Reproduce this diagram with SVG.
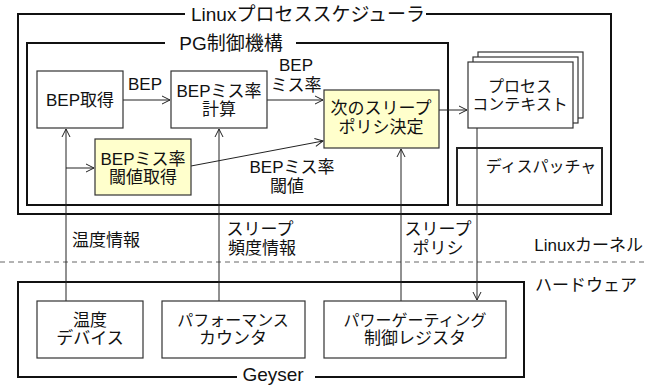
<svg xmlns="http://www.w3.org/2000/svg" width="648" height="385" viewBox="0 0 648 385">
  <defs>
    <marker id="arr" markerWidth="10" markerHeight="10" refX="9" refY="5" orient="auto" markerUnits="userSpaceOnUse">
      <path d="M1,1 L9,5 L1,9" fill="none" stroke="#222" stroke-width="1"/>
    </marker>
  </defs>
  <style>
    text { font-family: "Liberation Sans", "Noto Sans CJK JP", sans-serif; font-size: 17px; fill: #111; text-anchor: middle; }
    .frame { fill: none; stroke: #111; stroke-width: 2; }
    .box { fill: #fff; stroke: #333; stroke-width: 1.2; }
    .hi { fill: #ffffcc; stroke: #333; stroke-width: 1.2; }
    .wire { fill: none; stroke: #222; stroke-width: 1; }
    .title { font-size: 19px; }
    .narrow { font-size: 16px; }
  </style>
  <rect width="648" height="385" fill="#fff"/>

  <!-- layer divider -->
  <line x1="0" y1="262" x2="648" y2="262" stroke="#666" stroke-width="1" stroke-dasharray="5,4"/>
  <text x="643" y="251" style="text-anchor:end">Linuxカーネル</text>
  <text x="586" y="291">ハードウェア</text>

  <!-- container frames -->
  <g id="scheduler">
    <path class="frame" d="M185,14 H18 V214 H611 V14 H426"/>
    <text class="title" x="308" y="21">Linuxプロセススケジューラ</text>
  </g>
  <g id="pg-control">
    <path class="frame" d="M165,43 H27 V205 H448 V43 H296"/>
    <text class="title" x="231" y="50">PG制御機構</text>
  </g>
  <g id="geyser">
    <path class="frame" d="M237,377 H18 V282 H524 V377 H315"/>
    <text class="title" x="273" y="381">Geyser</text>
  </g>

  <!-- connectors -->
  <g id="connectors">
    <line class="wire" x1="123" y1="100" x2="170" y2="100" marker-end="url(#arr)"/>
    <line class="wire" x1="267" y1="100" x2="323" y2="100" marker-end="url(#arr)"/>
    <line class="wire" x1="191" y1="166" x2="323" y2="141" marker-end="url(#arr)"/>
    <line class="wire" x1="439" y1="110" x2="467" y2="110" marker-end="url(#arr)"/>
    <line class="wire" x1="66" y1="301" x2="66" y2="129" marker-end="url(#arr)"/>
    <line class="wire" x1="66" y1="168" x2="94" y2="168" marker-end="url(#arr)"/>
    <line class="wire" x1="219" y1="301" x2="219" y2="129" marker-end="url(#arr)"/>
    <line class="wire" x1="401" y1="301" x2="401" y2="149" marker-end="url(#arr)"/>
    <line class="wire" x1="477" y1="128" x2="477" y2="300" marker-end="url(#arr)"/>
    <text x="145" y="90">BEP</text>
    <text x="296" y="71">BEP</text>
    <text x="296" y="91">ミス率</text>
    <text x="292" y="173">BEPミス率</text>
    <text x="287" y="192">閾値</text>
    <text x="106" y="246">温度情報</text>
    <text x="260" y="235">スリープ</text>
    <text x="262" y="254">頻度情報</text>
    <text x="438" y="235">スリープ</text>
    <text x="438" y="254">ポリシ</text>
  </g>

  <!-- nodes -->
  <g id="bep-get">
    <rect class="box" x="37" y="71" width="86" height="57"/>
    <text x="80" y="106">BEP取得</text>
  </g>
  <g id="miss-rate">
    <rect class="box" x="171" y="71" width="96" height="57"/>
    <text x="219" y="97">BEPミス率</text>
    <text x="219" y="115">計算</text>
  </g>
  <g id="threshold">
    <rect class="hi" x="95" y="139" width="96" height="56"/>
    <text x="143" y="165">BEPミス率</text>
    <text x="143" y="183">閾値取得</text>
  </g>
  <g id="policy">
    <rect class="hi" x="324" y="90" width="115" height="58"/>
    <text x="381" y="114">次のスリープ</text>
    <text x="381" y="133">ポリシ決定</text>
  </g>
  <g id="process-context">
    <rect class="box" x="478" y="52" width="105" height="66"/>
    <rect class="box" x="473" y="57" width="105" height="66"/>
    <rect class="box" x="468" y="62" width="105" height="66"/>
    <text class="narrow" x="520" y="92">プロセス</text>
    <text class="narrow" x="520" y="110">コンテキスト</text>
  </g>
  <g id="dispatcher">
    <rect x="457" y="148" width="145" height="57" fill="none" stroke="#222" stroke-width="2"/>
    <text class="narrow" x="541" y="172">ディスパッチャ</text>
  </g>
  <g id="temp-device">
    <rect class="box" x="37" y="301" width="106" height="57"/>
    <text x="90" y="326">温度</text>
    <text x="90" y="344">デバイス</text>
  </g>
  <g id="perf-counter">
    <rect class="box" x="162" y="301" width="143" height="57"/>
    <text class="narrow" x="233" y="326">パフォーマンス</text>
    <text x="233" y="344">カウンタ</text>
  </g>
  <g id="pg-register">
    <rect class="box" x="324" y="301" width="182" height="57"/>
    <text class="narrow" x="415" y="326">パワーゲーティング</text>
    <text x="415" y="344">制御レジスタ</text>
  </g>
</svg>
